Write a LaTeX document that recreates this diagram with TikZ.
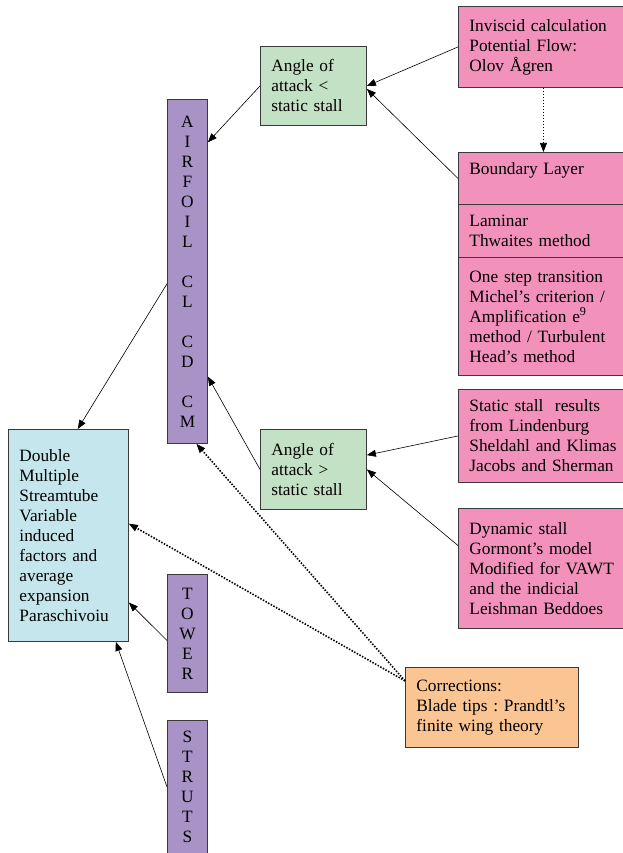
\documentclass[tikz,border=0pt]{standalone}
\usepackage{fontspec}
\setmainfont{Liberation Serif}
\usepackage{tikz}
\usetikzlibrary{arrows.meta}
\frenchspacing

\definecolor{pinkfill}{HTML}{F291BB}
\definecolor{violetfill}{HTML}{A892C6}
\definecolor{greenfill}{HTML}{C3E1C4}
\definecolor{bluefill}{HTML}{C4E6EC}
\definecolor{orangefill}{HTML}{FAC592}
\definecolor{edgegray}{HTML}{3A3A3A}

\tikzset{
    box/.style={draw=edgegray, line width=0.9pt, anchor=north west, align=left,
        inner xsep=11pt, inner ysep=0pt,
        font=\fontsize{17.3}{20}\selectfont},
    pinkbox/.style={box, fill=pinkfill},
    greenbox/.style={box, fill=greenfill},
    bluebox/.style={box, fill=bluefill},
    orangebox/.style={box, fill=orangefill},
    letterbox/.style={box, fill=violetfill, align=center, inner xsep=0pt,
        text width=40pt, minimum width=40pt},
    link/.style={line width=0.6pt, -{Triangle[length=9pt,width=7pt]}},
    hint/.style={line width=1.6pt, dash pattern=on 1.5pt off 1.5pt,
        -{Triangle[length=9pt,width=7pt,line width=0.6pt]}}
}

\begin{document}
\begin{tikzpicture}[x=1pt, y=-1pt]
    \useasboundingbox (0,0) rectangle (622,853);

    % Модели течения (справа)
    \node[pinkbox, minimum width=170pt, minimum height=81pt, text width=148pt] (inv) at (458,6)
        {Inviscid calculation\\Potential Flow:\\Olov Ågren};
    \node[pinkbox, minimum width=170pt, minimum height=52pt, text width=148pt] (bl) at (458,152)
        {Boundary Layer\\\mbox{}};
    \node[pinkbox, minimum width=170pt, minimum height=53pt, text width=148pt] (lam) at (458,204)
        {Laminar\\Thwaites method};
    \node[pinkbox, minimum width=170pt, minimum height=118pt, text width=148pt] (trans) at (458,257)
        {One step transition\\Michel’s criterion /\\Amplification e\textsuperscript{9}\\method / Turbulent\\Head’s method};
    \node[pinkbox, minimum width=170pt, minimum height=93pt, text width=148pt] (stat) at (458,389)
        {Static stall\ \ results\\from Lindenburg\\Sheldahl and Klimas\\Jacobs and Sherman};
    \node[pinkbox, minimum width=170pt, minimum height=120pt, text width=148pt] (dyn) at (458,508)
        {Dynamic stall\\Gormont’s model\\Modified for VAWT\\and the indicial\\Leishman Beddoes};

    % Углы атаки
    \node[greenbox, minimum width=106pt, minimum height=79pt, text width=84pt] (alow) at (260,46)
        {Angle of\\attack <\\static stall};
    \node[greenbox, minimum width=106pt, minimum height=80pt, text width=84pt] (ahigh) at (260,429)
        {Angle of\\attack >\\static stall};

    % Вертикальные блоки
    \node[letterbox, minimum height=344pt] (foil) at (167,99)
        {A\\I\\R\\F\\O\\I\\L\\\mbox{}\\C\\L\\\mbox{}\\C\\D\\\mbox{}\\C\\M};
    \node[letterbox, minimum height=118pt] (tower) at (167,574)
        {T\\O\\W\\E\\R};
    \node[letterbox, minimum height=133pt] (struts) at (167,720)
        {S\\T\\R\\U\\T\\S};

    % Основная модель
    \node[bluebox, minimum width=120pt, minimum height=212pt, text width=98pt] (dms) at (8,429)
        {Double\\Multiple\\Streamtube\\Variable\\induced\\factors and\\average\\expansion\\Paraschivoiu};

    % Поправки
    \node[orangebox, minimum width=173pt, minimum height=80pt, text width=151pt] (corr) at (405,667)
        {Corrections:\\\mbox{Blade tips : Prandtl’s}\\finite wing theory};

    % Связи
    \draw[link] (inv.west) -- (alow.east);
    \draw[link] (bl.west) -- ([yshift=-3pt]alow.east);
    \draw[hint] (inv.south) -- (bl.north);
    \draw[link] (alow.west) -- (foil.81.5);
    \draw[link] (foil.211) -- (dms.85.7);
    \draw[link] (ahigh.west) -- (foil.-79.5);
    \draw[link] (stat.west) -- (ahigh.15);
    \draw[link] (dyn.165.6) -- (ahigh.east);
    \draw[link] (tower.199) -- (dms.-48);
    \draw[link] (struts.west) -- (dms.-66);
    \draw[hint] (corr.163) -- (dms.11);
    \draw[hint] (corr.163) -- (foil.-87);
\end{tikzpicture}
\end{document}
